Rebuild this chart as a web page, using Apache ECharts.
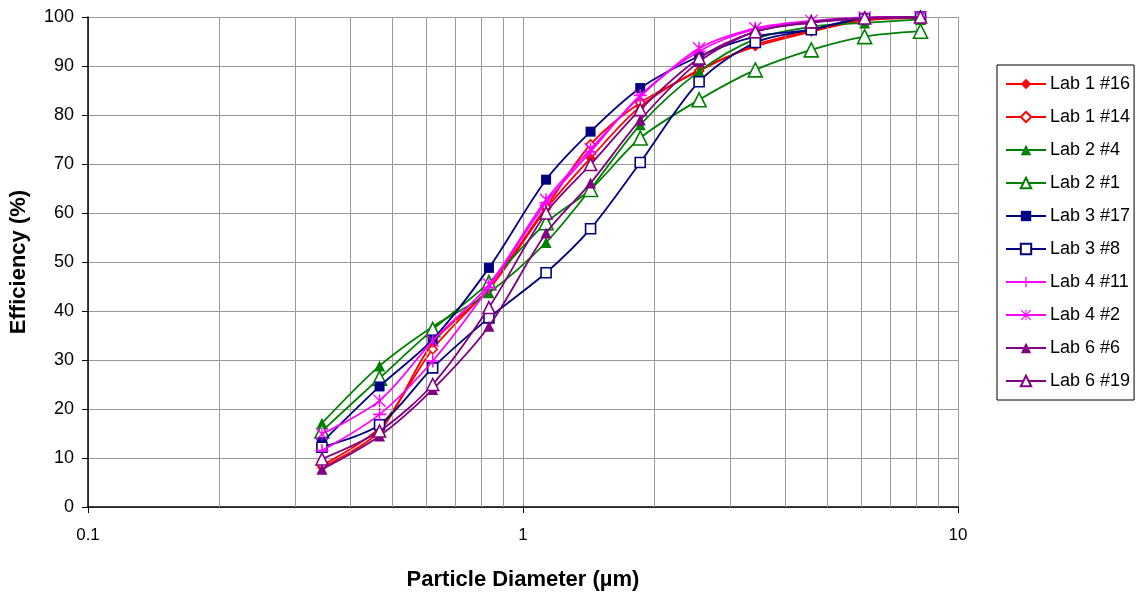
<!DOCTYPE html>
<html>
<head>
<meta charset="utf-8">
<script src="https://cdn.jsdelivr.net/npm/echarts@6/dist/echarts.min.js"></script>
<style>
html,body{margin:0;padding:0;background:#fff;}
#chart{width:1139px;height:596px;}
</style>
</head>
<body>
<div id="chart"></div>
<script>
// Particle diameters (µm)
const diameters = [0.345, 0.468, 0.62, 0.835, 1.13, 1.43, 1.86, 2.54, 3.42, 4.6, 6.1, 8.2];
// Efficiency (%) per lab/sample
const lab1_16 = [8.1, 15.5, 33.5, 44.4, 60.8, 71.2, 81.7, 89.2, 94.0, 97.0, 99.3, 99.8];
const lab1_14 = [8.5, 16.2, 32.2, 44.8, 61.2, 74.0, 82.5, 89.0, 94.3, 97.2, 99.5, 99.9];
const lab2_4  = [17.1, 28.8, 36.8, 43.7, 54.0, 64.9, 78.0, 88.9, 95.5, 98.0, 98.8, 99.5];
const lab2_1  = [15.5, 26.3, 36.2, 45.8, 58.0, 64.8, 75.3, 83.1, 89.2, 93.3, 96.0, 97.1];
const lab3_17 = [13.2, 24.6, 34.2, 48.8, 66.8, 76.6, 85.5, 92.0, 96.0, 97.4, 99.8, 100];
const lab3_8  = [12.2, 16.8, 28.4, 38.6, 47.8, 56.8, 70.3, 86.8, 94.8, 97.4, 99.7, 100];
const lab4_11 = [11.5, 18.9, 29.8, 44.8, 62.1, 72.5, 84.0, 93.0, 97.5, 99.0, 99.8, 100];
const lab4_2  = [14.9, 21.7, 33.9, 45.4, 62.7, 73.0, 83.8, 93.6, 97.7, 99.2, 99.9, 100];
const lab6_6  = [7.7, 14.5, 24.0, 36.9, 55.9, 66.1, 79.0, 90.9, 97.0, 98.8, 99.7, 100];
const lab6_19 = [9.8, 15.5, 25.0, 40.7, 60.0, 69.9, 81.1, 91.6, 97.0, 99.0, 99.8, 100];
const seriesNames = ['Lab 1 #16','Lab 1 #14','Lab 2 #4','Lab 2 #1','Lab 3 #17','Lab 3 #8','Lab 4 #11','Lab 4 #2','Lab 6 #6','Lab 6 #19'];
// Log-axis minor gridline positions
const minorGrid = [0.2,0.3,0.4,0.5,0.6,0.7,0.8,0.9,2,3,4,5,6,7,8,9];

const RED='#FF0000', GREEN='#008000', NAVY='#000080', MAG='#FF00FF', PUR='#800080';
const PLUS='path://M4.4,0H5.6V4.4H10V5.6H5.6V10H4.4V5.6H0V4.4H4.4Z';
const STAR='path://M4.5,0H5.5V10H4.5Z M0,0.7L0.7,0L10,9.3L9.3,10Z M9.3,0L10,0.7L0.7,10L0,9.3Z';

const styles = [
  {data: lab1_16, color: RED,   symbol: 'diamond',  size: 10, open: false},
  {data: lab1_14, color: RED,   symbol: 'diamond',  size: 9,  open: true},
  {data: lab2_4,  color: GREEN, symbol: 'triangle', size: 11, open: false},
  {data: lab2_1,  color: GREEN, symbol: 'triangle', size: 14, open: true},
  {data: lab3_17, color: NAVY,  symbol: 'rect',     size: 10, open: false},
  {data: lab3_8,  color: NAVY,  symbol: 'rect',     size: 10, open: true},
  {data: lab4_11, color: MAG,   symbol: PLUS,       size: 13, open: false},
  {data: lab4_2,  color: MAG,   symbol: STAR,       size: 13, open: false},
  {data: lab6_6,  color: PUR,   symbol: 'triangle', size: 11, open: false},
  {data: lab6_19, color: PUR,   symbol: 'triangle', size: 12, open: true}
];

const series = styles.map((s, i) => {
  const o = {
    name: seriesNames[i],
    type: 'line',
    smooth: 0.3,
    data: diameters.map((d, k) => [d, s.data[k]]),
    symbol: s.symbol,
    symbolSize: s.size,
    showSymbol: true,
    lineStyle: {color: s.color, width: 1.8},
    itemStyle: s.open ? {color: '#ffffff', borderColor: s.color, borderWidth: 1.6}
                      : {color: s.color, borderColor: s.color, borderWidth: 0},
    emphasis: {disabled: true},
    z: 3 + i
  };
  if (i === 0) {
    o.markLine = {
      silent: true,
      symbol: ['none','none'],
      label: {show: false},
      lineStyle: {color: '#999999', type: 'solid', width: 1},
      emphasis: {disabled: true},
      animation: false,
      data: minorGrid.map(v => ({xAxis: v}))
    };
  }
  return o;
});

const FONT = 'Liberation Sans, Arial, sans-serif';
const chart = echarts.init(document.getElementById('chart'), null, {renderer: 'canvas'});
chart.setOption({
  animation: false,
  backgroundColor: '#ffffff',
  textStyle: {fontFamily: FONT},
  grid: {left: 86, right: 181, top: 17, bottom: 88, containLabel: false},
  legend: {
    orient: 'vertical',
    left: 997, top: 65,
    width: 136,
    padding: [10, 4, 10, 8],
    borderColor: '#000', borderWidth: 1,
    itemWidth: 40, itemHeight: 13, itemGap: 15,
    textStyle: {fontSize: 18, color: '#000', fontFamily: FONT, padding: [0,0,0,-1]},
    data: seriesNames
  },
  xAxis: {
    type: 'log', logBase: 10, min: 0.1, max: 10,
    name: 'Particle Diameter (µm)',
    nameLocation: 'middle', nameGap: 62,
    nameTextStyle: {fontSize: 22, fontWeight: 'bold', color: '#000', fontFamily: FONT},
    axisLine: {show: true, lineStyle: {color: '#000', width: 1.5}},
    axisTick: {show: true, inside: false, length: 6, lineStyle: {color: '#000'}},
    axisLabel: {fontSize: 17, color: '#000', margin: 20, formatter: v => (v < 1 ? String(v) : String(Math.round(v)))},
    splitLine: {show: true, lineStyle: {color: '#999999', width: 1}}
  },
  yAxis: {
    type: 'value', min: 0, max: 100, interval: 10,
    name: 'Efficiency (%)',
    nameLocation: 'middle', nameGap: 58, nameRotate: 90,
    nameTextStyle: {fontSize: 22, fontWeight: 'bold', color: '#000', fontFamily: FONT},
    axisLine: {show: true, lineStyle: {color: '#000', width: 1.5}},
    axisTick: {show: true, inside: false, length: 6, lineStyle: {color: '#000'}},
    axisLabel: {fontSize: 18, color: '#000', margin: 14},
    splitLine: {show: true, lineStyle: {color: '#999999', width: 1}}
  },
  series: series
});
</script>
</body>
</html>
